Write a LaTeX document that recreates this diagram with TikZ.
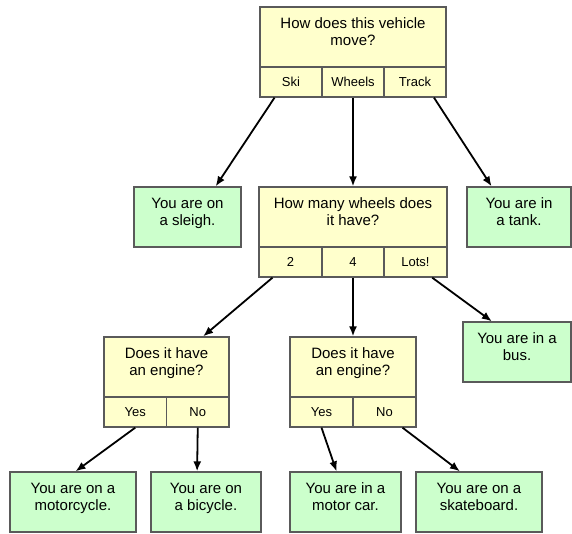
\documentclass[tikz,border=0pt]{standalone}
\usepackage{fontspec}
\setmainfont{Liberation Sans}
\usetikzlibrary{arrows.meta,calc}
\definecolor{askyellow}{RGB}{255,255,204}
\definecolor{endgreen}{RGB}{204,255,204}
\definecolor{boxgray}{RGB}{90,90,90}
\tikzset{>={Latex[length=10pt,width=8pt]},
  font=\fontsize{15}{17}\selectfont,
  link/.style={->,draw=black,line width=1.8pt},
  askbox/.style={draw=boxgray,line width=1.3pt,fill=askyellow,align=center,inner sep=0pt,minimum height=60pt,text depth=11pt},
  choice/.style={draw=boxgray,line width=1.3pt,fill=askyellow,inner sep=0pt,minimum height=30pt,font=\fontsize{13}{15}\selectfont},
  answer/.style={draw=boxgray,line width=1.3pt,fill=endgreen,align=center,inner sep=0pt,minimum height=60pt,text depth=11pt}}
\begin{document}
\begin{tikzpicture}[x=1pt,y=-1pt]
\useasboundingbox (0,0) rectangle (572,533);
% first question
\node[askbox,minimum width=186pt] (move) at (353,37) {How does this vehicle\\move?};
\node[choice,minimum width=62pt] (ski) at (291,82) {Ski};
\node[choice,minimum width=62pt] (wheels) at (353,82) {Wheels};
\node[choice,minimum width=62pt] (track) at (415,82) {Track};
% second question
\node[askbox,minimum width=188pt] (howmany) at (353,217) {How many wheels does\\it have?};
\node[choice,minimum width=63pt] (two) at (290.5,262) {2};
\node[choice,minimum width=62pt] (four) at (353,262) {4};
\node[choice,minimum width=63pt] (lots) at (415.5,262) {Lots!};
% engine questions
\node[askbox,minimum width=125pt] (engineA) at (166.5,367) {Does it have\\an engine?};
\node[choice,minimum width=62.5pt] (yesA) at (135.25,412) {Yes};
\node[choice,minimum width=62.5pt] (noA) at (197.75,412) {No};
\node[askbox,minimum width=126pt] (engineB) at (353,367) {Does it have\\an engine?};
\node[choice,minimum width=63pt] (yesB) at (321.5,412) {Yes};
\node[choice,minimum width=63pt] (noB) at (384.5,412) {No};
% answers
\node[answer,minimum width=107pt] (sleigh) at (187.5,217) {You are on\\a sleigh.};
\node[answer,minimum width=104pt] (tank) at (519,217) {You are in\\a tank.};
\node[answer,minimum width=108pt] (bus) at (517,352) {You are in a\\bus.};
\node[answer,minimum width=126pt] (motorcycle) at (73,502) {You are on a\\motorcycle.};
\node[answer,minimum width=110pt] (bicycle) at (206,502) {You are on\\a bicycle.};
\node[answer,minimum width=111pt] (motorcar) at (345.5,502) {You are in a\\motor car.};
\node[answer,minimum width=126pt] (skateboard) at (479,502) {You are on a\\skateboard.};
% arrows
\path[link] ($(ski.south west)!.24!(ski.south east)$) -- ($(sleigh.north west)!.76!(sleigh.north east)$);
\path[link] (wheels.south) -- (howmany.north);
\path[link] ($(track.south west)!.8!(track.south east)$) -- ($(tank.north west)!.24!(tank.north east)$);
\path[link] ($(two.south west)!.22!(two.south east)$) -- ($(engineA.north west)!.79!(engineA.north east)$);
\path[link] (four.south) -- (engineB.north);
\path[link] ($(lots.south west)!.76!(lots.south east)$) -- ($(bus.north west)!.27!(bus.north east)$);
\path[link] (yesA.south) -- ($(motorcycle.north west)!.52!(motorcycle.north east)$);
\path[link] (noA.south) -- ($(bicycle.north west)!.42!(bicycle.north east)$);
\path[link] (yesB.south) -- ($(motorcar.north west)!.42!(motorcar.north east)$);
\path[link] ($(noB.south west)!.78!(noB.south east)$) -- ($(skateboard.north west)!.35!(skateboard.north east)$);
\end{tikzpicture}
\end{document}
